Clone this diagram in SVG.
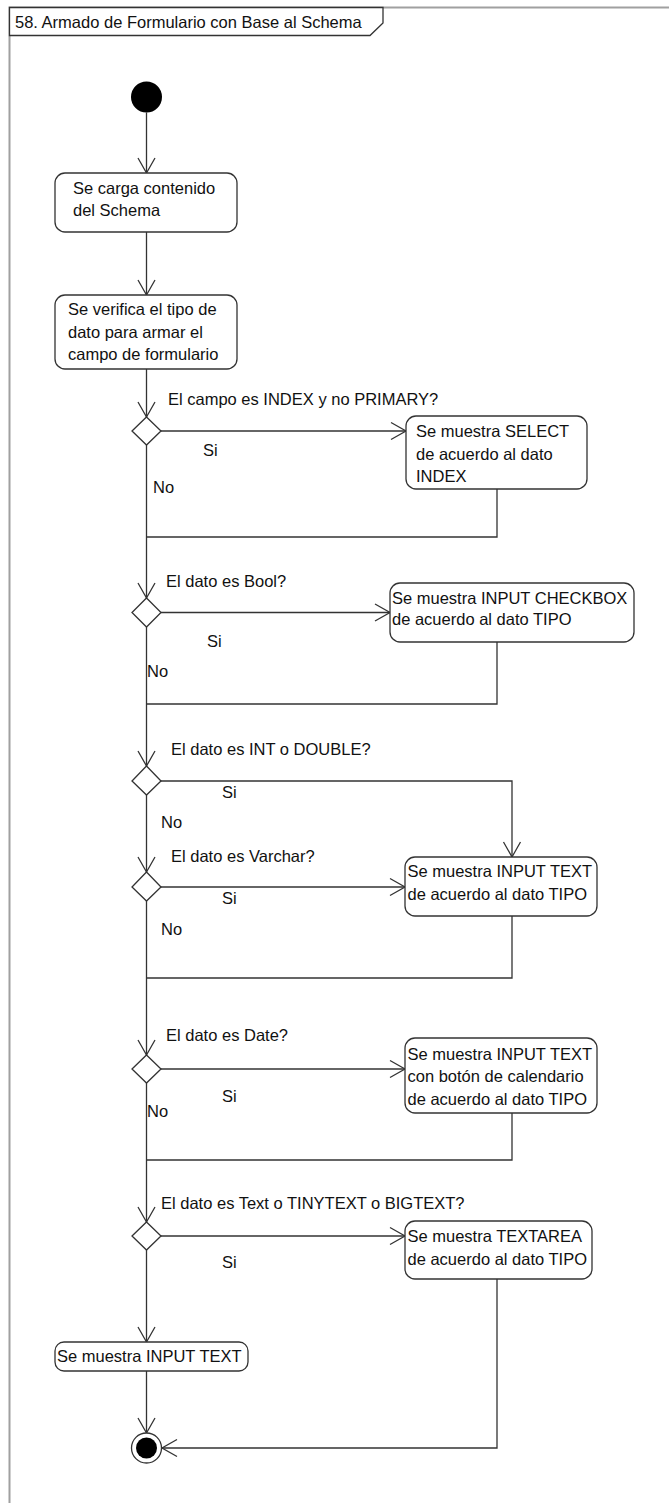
<svg xmlns="http://www.w3.org/2000/svg" width="669" height="1503" viewBox="0 0 669 1503">
<style>
text{font-family:"Liberation Sans",Arial,sans-serif;font-size:16.5px;fill:#111}
.act{fill:#fff;stroke:#333;stroke-width:1.3}
.dec{fill:#fff;stroke:#333;stroke-width:1.3}
.c{fill:none;stroke:#333;stroke-width:1.3}
.frame{fill:none;stroke:#a0a0a0;stroke-width:2}
</style>
<defs>
<marker id="arr" markerUnits="userSpaceOnUse" markerWidth="20" markerHeight="20" viewBox="-16 -10 18 20" refX="0" refY="0" orient="auto">
<path d="M-15,-8.5 L0,0 L-15,8.5" fill="none" stroke="#333" stroke-width="1.3"/>
</marker>
</defs>
<rect width="669" height="1503" fill="#fff"/>
<g id="frame">
<path class="frame" d="M9.5,1503 V7.5 H669"/>
<path d="M9.5,7.5 H383 V23 L370,35.5 H9.5 Z" fill="#fff" stroke="#333" stroke-width="1.3"/>
<text x="15" y="28">58. Armado de Formulario con Base al Schema</text>
</g>
<g id="connectors">
<path class="c" d="M146.5,112.5 V173" marker-end="url(#arr)"/>
<path class="c" d="M146.5,232 V295" marker-end="url(#arr)"/>
<path class="c" d="M146.5,369 V417" marker-end="url(#arr)"/>
<path class="c" d="M161,431 H406" marker-end="url(#arr)"/>
<path class="c" d="M146.5,445 V598" marker-end="url(#arr)"/>
<path class="c" d="M497,489 V537 H146.5"/>
<path class="c" d="M161,612.5 H390" marker-end="url(#arr)"/>
<path class="c" d="M146.5,627 V766" marker-end="url(#arr)"/>
<path class="c" d="M497,642 V704 H146.5"/>
<path class="c" d="M161,781 H512 V857" marker-end="url(#arr)"/>
<path class="c" d="M146.5,795 V872" marker-end="url(#arr)"/>
<path class="c" d="M161,887 H405" marker-end="url(#arr)"/>
<path class="c" d="M146.5,901 V1055" marker-end="url(#arr)"/>
<path class="c" d="M512,916 V978 H146.5"/>
<path class="c" d="M161,1069 H405" marker-end="url(#arr)"/>
<path class="c" d="M146.5,1083 V1222" marker-end="url(#arr)"/>
<path class="c" d="M512,1113 V1160 H146.5"/>
<path class="c" d="M161,1236 H405" marker-end="url(#arr)"/>
<path class="c" d="M146.5,1250 V1342" marker-end="url(#arr)"/>
<path class="c" d="M146.5,1371 V1433" marker-end="url(#arr)"/>
<path class="c" d="M497,1279 V1448 H162" marker-end="url(#arr)"/>
<text x="203" y="456">Si</text>
<text x="153" y="493">No</text>
<text x="207" y="647">Si</text>
<text x="147" y="677">No</text>
<text x="222" y="798">Si</text>
<text x="161" y="828">No</text>
<text x="222" y="904">Si</text>
<text x="161" y="935">No</text>
<text x="222" y="1102">Si</text>
<text x="147" y="1117">No</text>
<text x="222" y="1268">Si</text>
</g>
<g id="start"><circle cx="146.5" cy="97" r="15.5" fill="#000"/></g>
<g id="a1"><rect class="act" x="55" y="173" width="182" height="59" rx="10"/>
<text x="73" y="194">Se carga contenido</text><text x="73" y="216">del Schema</text></g>
<g id="a2"><rect class="act" x="55" y="295" width="182" height="74" rx="10"/>
<text x="68" y="315">Se verifica el tipo de</text><text x="68" y="337.5">dato para armar el</text><text x="68" y="360">campo de formulario</text></g>
<g id="d1"><path class="dec" d="M146.5,417 L161,431 L146.5,445 L132,431 Z"/>
<text x="168" y="405">El campo es INDEX y no PRIMARY?</text></g>
<g id="a3"><rect class="act" x="406" y="416" width="181" height="73" rx="10"/>
<text x="416" y="437">Se muestra SELECT</text><text x="416" y="460">de acuerdo al dato</text><text x="416" y="482">INDEX</text></g>
<g id="d2"><path class="dec" d="M146.5,598 L161,612.5 L146.5,627 L132,612.5 Z"/>
<text x="166" y="587">El dato es Bool?</text></g>
<g id="a4"><rect class="act" x="390" y="583" width="244" height="59" rx="10"/>
<text x="392" y="603.5">Se muestra INPUT CHECKBOX</text><text x="392" y="625">de acuerdo al dato TIPO</text></g>
<g id="d3"><path class="dec" d="M146.5,766 L161,781 L146.5,795 L132,781 Z"/>
<text x="171" y="755">El dato es INT o DOUBLE?</text></g>
<g id="d4"><path class="dec" d="M146.5,872 L161,887 L146.5,901 L132,887 Z"/>
<text x="171" y="862">El dato es Varchar?</text></g>
<g id="a5"><rect class="act" x="405" y="857" width="192" height="59" rx="10"/>
<text x="407.5" y="877">Se muestra INPUT TEXT</text><text x="407.5" y="900">de acuerdo al dato TIPO</text></g>
<g id="d5"><path class="dec" d="M146.5,1055 L161,1069 L146.5,1083 L132,1069 Z"/>
<text x="166" y="1041">El dato es Date?</text></g>
<g id="a6"><rect class="act" x="405" y="1038" width="192" height="75" rx="10"/>
<text x="407.5" y="1059.5">Se muestra INPUT TEXT</text><text x="407.5" y="1082">con botón de calendario</text><text x="407.5" y="1105">de acuerdo al dato TIPO</text></g>
<g id="d6"><path class="dec" d="M146.5,1222 L161,1236 L146.5,1250 L132,1236 Z"/>
<text x="161" y="1208.5">El dato es Text o TINYTEXT o BIGTEXT?</text></g>
<g id="a7"><rect class="act" x="405" y="1221" width="187" height="58" rx="10"/>
<text x="407.5" y="1242">Se muestra TEXTAREA</text><text x="407.5" y="1265">de acuerdo al dato TIPO</text></g>
<g id="a8"><rect class="act" x="55" y="1342" width="193" height="29" rx="9"/>
<text x="57" y="1362">Se muestra INPUT TEXT</text></g>
<g id="end"><circle cx="146.5" cy="1448" r="15" fill="#fff" stroke="#333" stroke-width="1.3"/><circle cx="146.5" cy="1448" r="10.5" fill="#000"/></g>
</svg>
